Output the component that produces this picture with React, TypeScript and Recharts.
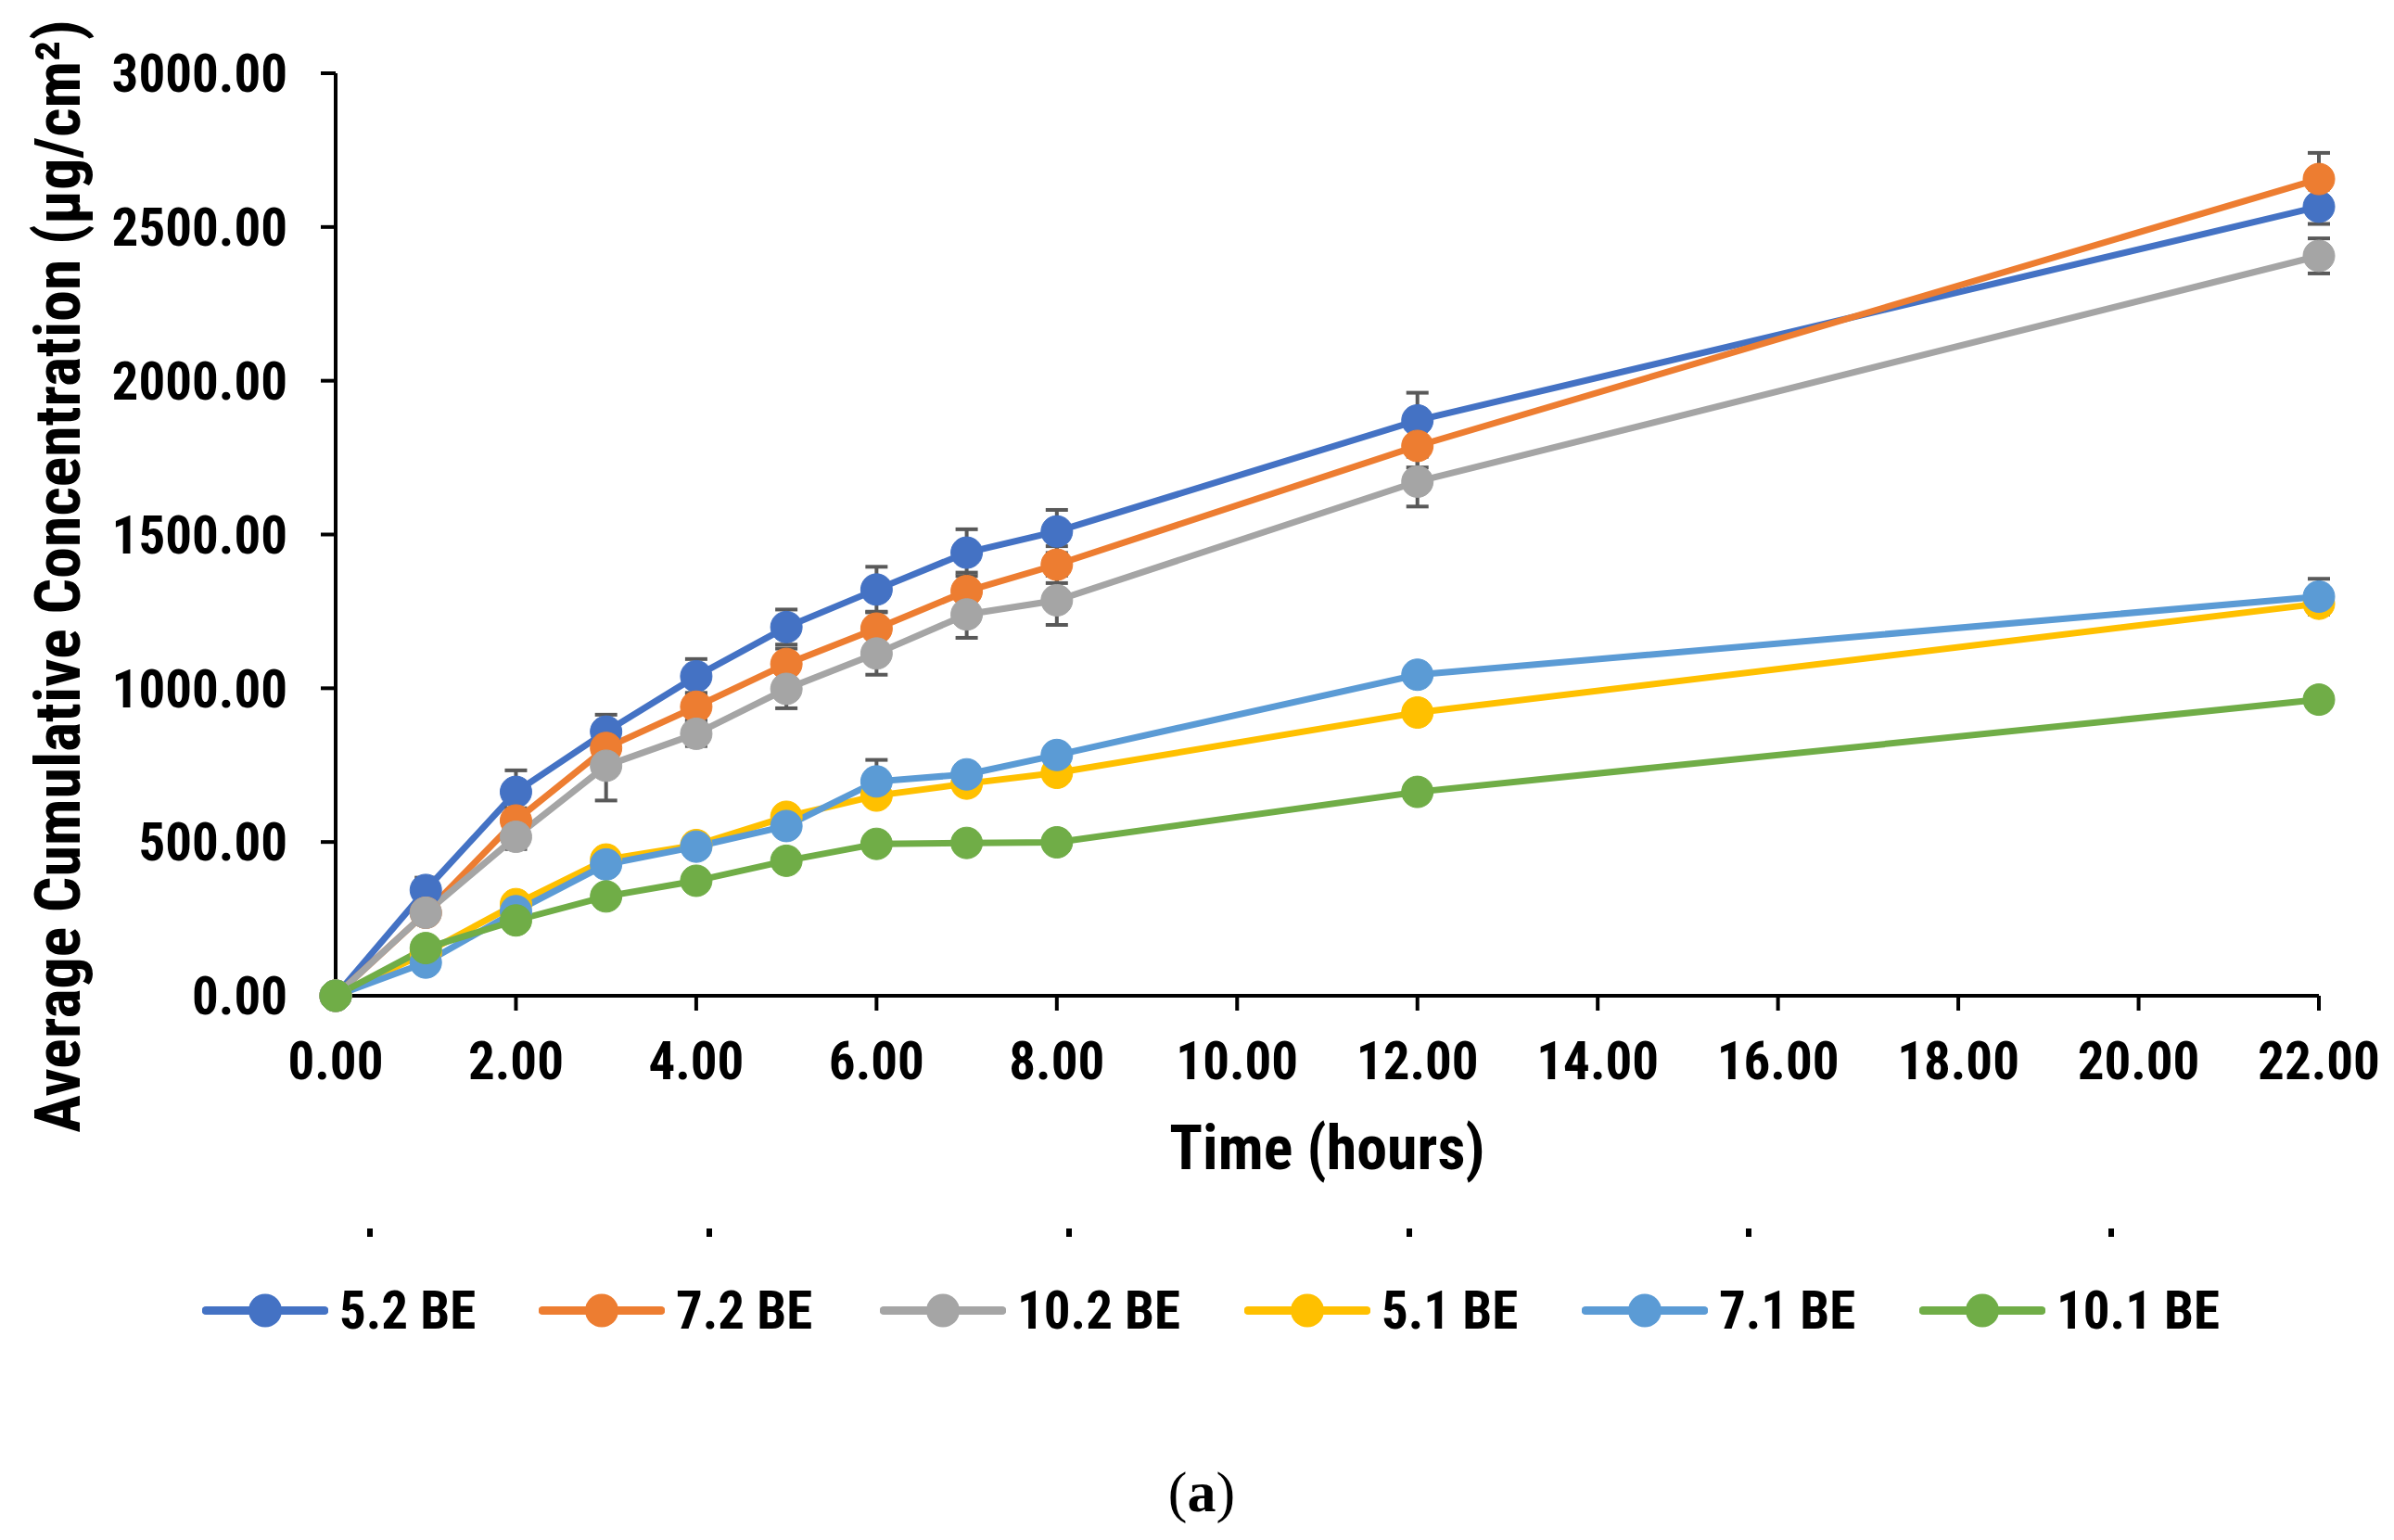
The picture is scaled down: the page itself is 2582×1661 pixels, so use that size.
import React from "react"
import { CartesianGrid, ErrorBar, Label, Line, LineChart, XAxis, YAxis } from "recharts"

// time points (hours)
const hours = [0, 1, 2, 3, 4, 5, 6, 7, 8, 12, 22]

// average cumulative concentration (µg/cm²) per formulation
const be52 = [0, 344, 663, 859, 1039, 1199, 1321, 1441, 1510, 1871, 2566]
const be72 = [0, 270, 570, 806, 940, 1079, 1194, 1316, 1402, 1788, 2656]
const be102 = [0, 270, 517, 748, 852, 998, 1113, 1240, 1286, 1672, 2406]
const be51 = [0, 140, 298, 443, 490, 582, 651, 690, 725, 921, 1275]
const be71 = [0, 108, 275, 427, 485, 552, 697, 720, 783, 1044, 1298]
const be101 = [0, 155, 245, 323, 374, 439, 494, 497, 499, 663, 963]

// standard deviations (error bars)
const sd52 = [0, 40, 70, 55, 56, 57, 74, 76, 70, 90, 56]
const sd72 = [0, 30, 40, 45, 45, 50, 55, 60, 60, 70, 85]
const sd102 = [0, 30, 40, 113, 40, 63, 69, 76, 80, 81, 57]
const sd71 = [0, 10, 20, 20, 20, 20, 70, 20, 20, 20, 58]

const yTicks = [0, 500, 1000, 1500, 2000, 2500, 3000]
const xTicks = [0, 2, 4, 6, 8, 10, 12, 14, 16, 18, 20, 22]

const series = [
  { key: "be52", name: "5.2 BE", color: "#4472C4", values: be52, err: sd52 },
  { key: "be72", name: "7.2 BE", color: "#ED7D31", values: be72, err: sd72 },
  { key: "be102", name: "10.2 BE", color: "#A5A5A5", values: be102, err: sd102 },
  { key: "be51", name: "5.1 BE", color: "#FFC000", values: be51, err: null },
  { key: "be71", name: "7.1 BE", color: "#5B9BD5", values: be71, err: sd71 },
  { key: "be101", name: "10.1 BE", color: "#70AD47", values: be101, err: null },
]

const data = hours.map((t, i) => {
  const row: Record<string, number> = { t }
  series.forEach((s) => {
    row[s.key] = s.values[i]
    if (s.err) row[s.key + "Err"] = s.err[i]
  })
  return row
})

const NARROW = "'Liberation Sans Narrow', 'Arial Narrow', 'Roboto Condensed', sans-serif"

const fmt = (v: number) => v.toFixed(2)

// stray marks visible under the axis title in the original figure
const strayMarks = [399, 765, 1153, 1520, 1886, 2277]
// left edge of each legend entry
const legendLeft = [218, 581, 949, 1342, 1706, 2070]

export default function App() {
  return (
    <div
      style={{
        position: "absolute",
        left: 0,
        top: 0,
        width: 2582,
        height: 1661,
        background: "#fff",
        overflow: "hidden",
      }}
    >
      <LineChart
        width={2582}
        height={1661}
        data={data}
        margin={{ top: 79, right: 81, left: 122, bottom: 387 }}
      >
        <CartesianGrid stroke="none" />
        <XAxis
          dataKey="t"
          type="number"
          domain={[0, 22]}
          ticks={xTicks}
          tickFormatter={fmt}
          height={200}
          axisLine={{ stroke: "#000", strokeWidth: 4 }}
          tickLine={{ stroke: "#000", strokeWidth: 4 }}
          tickSize={16}
          tickMargin={34}
          tick={{ fill: "#000", fontSize: 57, fontWeight: 700, fontFamily: NARROW }}
          interval={0}
        >
          <Label
            content={({ viewBox }: any) => (
              <text
                x={viewBox.x + viewBox.width / 2}
                y={1238}
                textAnchor="middle"
                dominantBaseline="central"
                fontFamily={NARROW}
                fontWeight={700}
                fontSize={66}
                fill="#000"
              >
                Time (hours)
              </text>
            )}
          />
        </XAxis>
        <YAxis
          type="number"
          domain={[0, 3000]}
          ticks={yTicks}
          tickFormatter={fmt}
          width={240}
          axisLine={{ stroke: "#000", strokeWidth: 4 }}
          tickLine={{ stroke: "#000", strokeWidth: 4 }}
          tickSize={16}
          tickMargin={36}
          tick={{ fill: "#000", fontSize: 57, fontWeight: 700, fontFamily: NARROW }}
          interval={0}
        >
          <Label
            content={({ viewBox }: any) => {
              const cy = viewBox.y + viewBox.height / 2 + 45
              return (
                <text
                  x={63}
                  y={cy}
                  transform={`rotate(-90, 63, ${cy})`}
                  textAnchor="middle"
                  dominantBaseline="central"
                  fontFamily={NARROW}
                  fontWeight={700}
                  fontSize={68}
                  fill="#000"
                >
                  Average Cumulative Concentration (µg/cm²)
                </text>
              )
            }}
          />
        </YAxis>
        {series.map((s) => (
          <Line
            key={s.key}
            dataKey={s.key}
            name={s.name}
            type="linear"
            stroke={s.color}
            strokeWidth={7}
            dot={{ r: 17, fill: s.color, stroke: s.color, strokeWidth: 1 }}
            activeDot={false}
            isAnimationActive={false}
          >
            {s.err && (
              <ErrorBar
                dataKey={s.key + "Err"}
                direction="y"
                width={12}
                stroke="#595959"
                strokeWidth={4}
              />
            )}
          </Line>
        ))}
      </LineChart>

      {strayMarks.map((x) => (
        <div
          key={x}
          style={{ position: "absolute", left: x - 3, top: 1325, width: 6, height: 9, background: "#000" }}
        />
      ))}

      {series.map((s, i) => (
        <div
          key={s.key}
          style={{
            position: "absolute",
            left: legendLeft[i],
            top: 1413,
            transform: "translateY(-50%)",
            display: "flex",
            alignItems: "center",
            gap: 12,
            whiteSpace: "nowrap",
          }}
        >
          <svg width={136} height={40}>
            <line x1={4} y1={20} x2={132} y2={20} stroke={s.color} strokeWidth={9} strokeLinecap="round" />
            <circle cx={68} cy={20} r={18} fill={s.color} />
          </svg>
          <span
            style={{
              fontFamily: NARROW,
              fontWeight: 700,
              fontSize: 57,
              color: "#000",
              lineHeight: 1,
            }}
          >
            {s.name}
          </span>
        </div>
      ))}

      <div
        style={{
          position: "absolute",
          left: 1296,
          top: 1609,
          transform: "translate(-50%, -50%)",
          fontFamily: "'Liberation Serif', 'Times New Roman', serif",
          fontSize: 62,
          lineHeight: 1,
          color: "#000",
        }}
      >
        (<b>a</b>)
      </div>
    </div>
  )
}
